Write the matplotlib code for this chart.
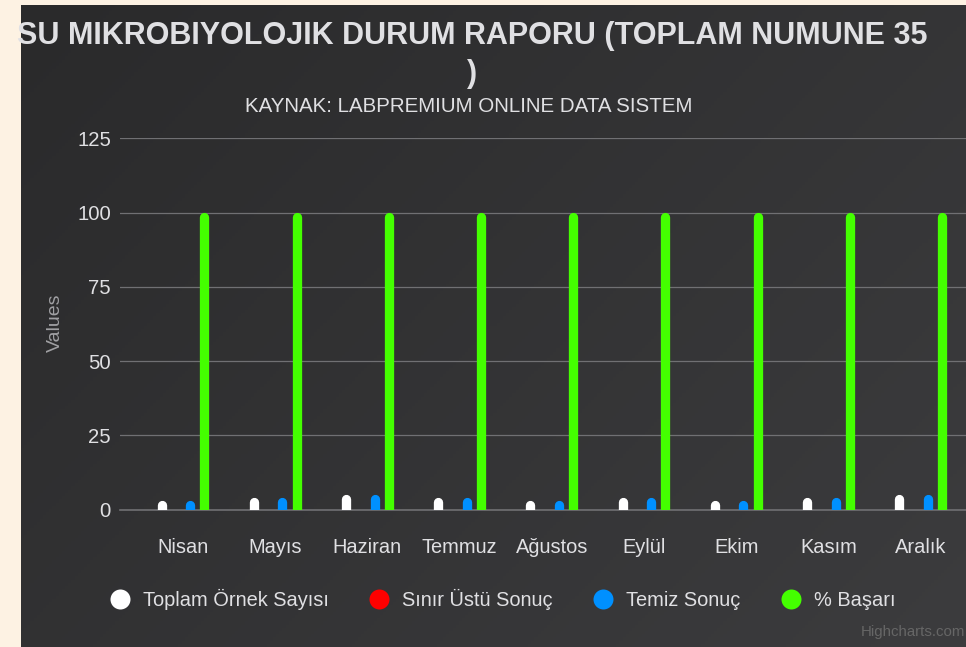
import matplotlib
matplotlib.use('Agg')
import matplotlib.pyplot as plt
import numpy as np
from matplotlib import transforms
from matplotlib.lines import Line2D
from matplotlib.colors import LinearSegmentedColormap

# monthly water microbiology counts
months = ['Nisan', 'Mayıs', 'Haziran', 'Temmuz', 'Ağustos', 'Eylül', 'Ekim', 'Kasım', 'Aralık']
toplam_ornek = [3, 4, 5, 4, 3, 4, 3, 4, 5]
sinir_ustu = [0, 0, 0, 0, 0, 0, 0, 0, 0]
temiz_sonuc = [3, 4, 5, 4, 3, 4, 3, 4, 5]
basari = [100, 100, 100, 100, 100, 100, 100, 100, 100]
series_names = ['Toplam Örnek Sayısı', 'Sınır Üstü Sonuç', 'Temiz Sonuç', '% Başarı']
series_colors = ['#ffffff', '#ff0000', '#0090ff', '#44ff00']
y_ticks = [0, 25, 50, 75, 100, 125]

W, H = 966, 647
TXT = '#E0E0E3'
GRID = '#707073'

plt.rcParams['font.family'] = ['Liberation Sans', 'DejaVu Sans']

fig = plt.figure(figsize=(W / 100, H / 100), dpi=100)
fig.patch.set_facecolor('#fdf2e3')


def fpos(x, y):
    return x / W, 1 - y / H


# dark chart background with a diagonal gradient
bg = fig.add_axes([21 / W, 0, 1 - 21 / W, 1 - 5 / H], zorder=0)
gx, gy = np.meshgrid(np.linspace(0, 1, 300), np.linspace(0, 1, 200))
cmap = LinearSegmentedColormap.from_list('bg', ['#2a2a2b', '#3c3c3e'])
bg.imshow((gx * 0.6 + gy * 0.4), cmap=cmap, extent=[0, 1, 0, 1], aspect='auto', origin='upper')
bg.set_xlim(0, 1)
bg.set_ylim(0, 1)
bg.axis('off')

title = bg.text(*fpos(472, 55), 'SU MIKROBIYOLOJIK DURUM RAPORU (TOPLAM NUMUNE 35\n)',
                transform=fig.transFigure, ha='center', va='center', multialignment='center',
                fontsize=22, fontweight='bold', color=TXT, linespacing=1.35)
title.set_clip_path(bg.patch)
fig.text(*fpos(469, 106), 'KAYNAK: LABPREMIUM ONLINE DATA SISTEM',
         ha='center', va='center', fontsize=14.8, color=TXT)

# plot area
y0, y125 = 509.7, 138.4
ax = fig.add_axes([120 / W, 1 - y0 / H, (W - 120) / W, (y0 - y125) / H], zorder=2)
ax.set_facecolor('none')
cat_px = 92.2
first_px = 183
ax.set_xlim((120 - first_px) / cat_px, (W - first_px) / cat_px)
ax.set_ylim(0, 125)

# columns with rounded tops: thick round-capped lines pulled down by the cap radius
bar_px = 9.3
lw = bar_px * 72 / fig.dpi
capped = transforms.offset_copy(ax.transData, fig=fig, x=0, y=-bar_px / 2, units='dots')
x = np.arange(len(months))
series = [toplam_ornek, sinir_ustu, temiz_sonuc, basari]
for k, (vals, color) in enumerate(zip(series, series_colors)):
    xs = x + (k - 1.5) * 0.155
    ax.vlines(xs, 0, vals, colors=color, linewidth=lw, capstyle='round',
              transform=capped, zorder=3)

ax.set_xticks(x, months)
ax.set_yticks(y_ticks)
ax.tick_params(axis='both', length=0, colors=TXT)
ax.tick_params(axis='x', labelsize=14.4, pad=20.5)
ax.tick_params(axis='y', labelsize=14.6, pad=6.5)
ax.grid(axis='y', color=GRID, linewidth=0.9)
ax.set_axisbelow(True)
for side in ['top', 'right', 'left']:
    ax.spines[side].set_visible(False)
ax.spines['bottom'].set_color(GRID)
ax.spines['bottom'].set_linewidth(1.2)

fig.text(*fpos(55, 323), 'Values', rotation=90, ha='center', va='center',
         fontsize=14, color='#A0A0A3')

handles = [Line2D([], [], marker='o', linestyle='none', markersize=14.4,
                  markerfacecolor=c, markeredgewidth=0) for c in series_colors]
fig.legend(handles, series_names, loc='center left', bbox_to_anchor=fpos(110, 599),
           ncol=4, frameon=False, fontsize=14.4, labelcolor=TXT,
           handlelength=1.0, handletextpad=0.65, columnspacing=2.02,
           borderpad=0, borderaxespad=0)

fig.text(*fpos(965, 632), 'Highcharts.com', ha='right', va='center',
         fontsize=10.8, color='#666666')

fig.savefig('out.png', dpi=100, facecolor=fig.get_facecolor())
